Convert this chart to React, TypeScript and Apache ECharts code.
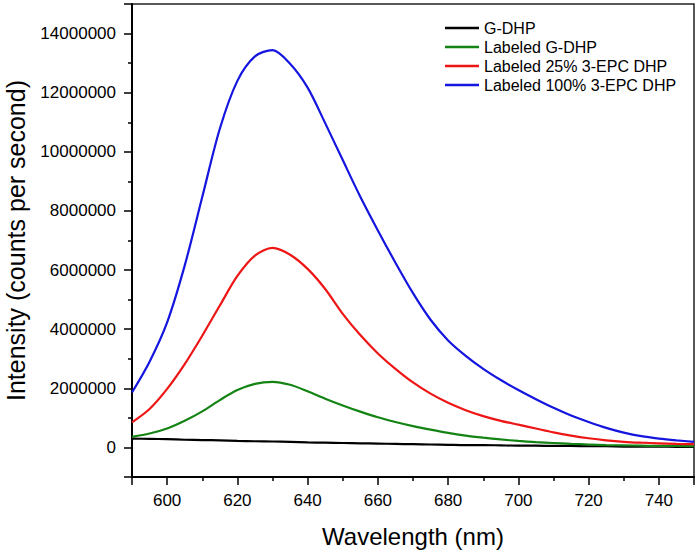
import React, { useEffect, useRef } from "react";
import * as echarts from "echarts";

const wavelengths = [
  590, 595, 600, 605, 610, 615, 620, 625, 630, 635, 640, 645, 650, 655, 660, 665,
  670, 675, 680, 685, 690, 695, 700, 705, 710, 715, 720, 725, 730, 735, 740, 745, 750,
];

const gDhp = [
  300000, 290000, 280000, 260000, 250000, 240000, 220000, 210000, 200000, 190000, 170000,
  160000, 150000, 140000, 130000, 120000, 110000, 100000, 90000, 80000, 80000, 70000, 60000,
  60000, 50000, 50000, 40000, 40000, 30000, 30000, 30000, 20000, 20000,
];

const labeledGDhp = [
  360000, 470000, 640000, 900000, 1220000, 1600000, 1940000, 2150000, 2220000, 2120000,
  1900000, 1650000, 1420000, 1210000, 1020000, 860000, 720000, 600000, 490000, 400000,
  330000, 270000, 220000, 180000, 150000, 120000, 100000, 80000, 70000, 60000, 50000, 50000,
  40000,
];

const labeled25 = [
  850000, 1300000, 1980000, 2820000, 3780000, 4800000, 5800000, 6490000, 6750000, 6520000,
  6040000, 5360000, 4520000, 3800000, 3180000, 2660000, 2200000, 1820000, 1510000, 1260000,
  1060000, 900000, 770000, 640000, 510000, 400000, 310000, 240000, 190000, 160000, 140000,
  120000, 110000,
];

const labeled100 = [
  1860000, 2900000, 4230000, 6150000, 8470000, 10780000, 12400000, 13230000, 13440000,
  12980000, 12170000, 10970000, 9720000, 8480000, 7340000, 6250000, 5220000, 4320000,
  3620000, 3100000, 2660000, 2280000, 1940000, 1630000, 1340000, 1080000, 860000, 660000,
  500000, 380000, 300000, 240000, 190000,
];

const seriesNames = [
  "G-DHP",
  "Labeled G-DHP",
  "Labeled 25% 3-EPC DHP",
  "Labeled 100% 3-EPC DHP",
];
const seriesValues = [gDhp, labeledGDhp, labeled25, labeled100];
const seriesColors = ["#000000", "#138413", "#ee1515", "#1515e0"];

const FONT = 'Arial, "Liberation Sans", Helvetica, sans-serif';

export default function App() {
  const ref = useRef<HTMLDivElement>(null);

  useEffect(() => {
    if (!ref.current) return;
    const chart = echarts.init(ref.current, null, { renderer: "svg" });

    const option: any = {
      animation: false,
      backgroundColor: "#ffffff",
      textStyle: { fontFamily: FONT },
      grid: {
        left: 132,
        right: 6,
        top: 4,
        bottom: 79,
        show: true,
        borderColor: "#222222",
        borderWidth: 1.5,
        backgroundColor: "transparent",
        containLabel: false,
        outerBoundsMode: "none",
      },
      legend: {
        orient: "vertical",
        left: 445,
        top: 20,
        icon: "rect",
        itemWidth: 34,
        itemHeight: 2.5,
        itemGap: 3,
        padding: 0,
        textStyle: { fontFamily: FONT, fontSize: 16, color: "#000", lineHeight: 16 },
        data: seriesNames,
      },
      xAxis: {
        type: "value",
        min: 590,
        max: 750,
        splitNumber: 8,
        minInterval: 20,
        maxInterval: 20,
        name: "Wavelength (nm)",
        nameLocation: "middle",
        nameGap: 47,
        nameTextStyle: { fontFamily: FONT, fontSize: 24, color: "#000" },
        axisLine: { show: true, onZero: false, lineStyle: { color: "#000", width: 2 } },
        axisTick: { show: true, length: 8, lineStyle: { color: "#000", width: 1.5 } },
        minorTick: { show: true, splitNumber: 2, length: 4, lineStyle: { color: "#000", width: 1.5 } },
        splitLine: { show: false },
        axisLabel: {
          fontFamily: FONT,
          fontSize: 17,
          color: "#000",
          margin: 15,
          formatter: (v: number) => (v % 20 === 0 && v > 590 && v < 750 ? String(v) : ""),
        },
      },
      yAxis: {
        type: "value",
        min: -1000000,
        max: 15000000,
        splitNumber: 8,
        minInterval: 2000000,
        maxInterval: 2000000,
        name: "Intensity (counts per second)",
        nameLocation: "middle",
        nameGap: 104,
        nameTextStyle: {
          fontFamily: FONT,
          fontSize: 25,
          color: "#000",
        },
        axisLine: { show: true, onZero: false, lineStyle: { color: "#000", width: 2 } },
        axisTick: { show: true, length: 8, lineStyle: { color: "#000", width: 1.5 } },
        minorTick: { show: true, splitNumber: 2, length: 4, lineStyle: { color: "#000", width: 1.5 } },
        splitLine: { show: false },
        axisLabel: {
          fontFamily: FONT,
          fontSize: 17,
          color: "#000",
          margin: 16,
          formatter: (v: number) =>
            v % 2000000 === 0 && v >= 0 && v <= 14000000 ? String(v) : "",
        },
      },
      series: seriesNames.map((name, i) => ({
        name,
        type: "line",
        smooth: 0.3,
        symbol: "none",
        z: 2 + i,
        lineStyle: { color: seriesColors[i], width: 2.2 },
        itemStyle: { color: seriesColors[i] },
        data: wavelengths.map((w, j) => [w, seriesValues[i][j]]),
      })),
    };

    chart.setOption(option);
    return () => chart.dispose();
  }, []);

  return (
    <div
      ref={ref}
      style={{ position: "fixed", left: 0, top: 0, width: 700, height: 556 }}
    />
  );
}
